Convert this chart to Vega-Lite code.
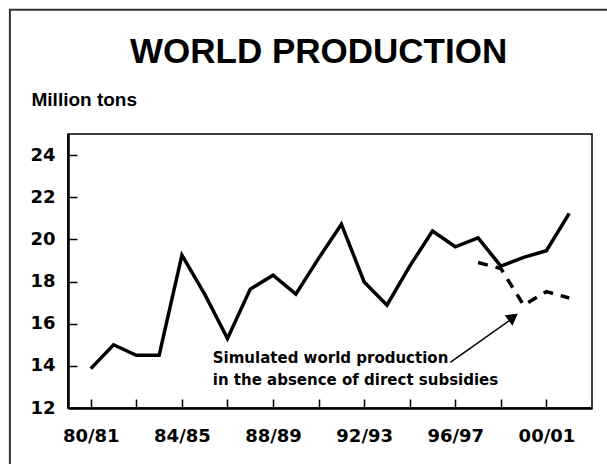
{
  "$schema": "https://vega.github.io/schema/vega-lite/v6.json",
  "width": 524,
  "height": 274,
  "autosize": {"type": "none"},
  "padding": {"left": 68, "top": 134, "right": 15, "bottom": 56},
  "background": "white",
  "title": {
    "text": "WORLD PRODUCTION",
    "font": "Liberation Sans",
    "fontSize": 35,
    "fontWeight": "bold",
    "color": "black",
    "anchor": "start",
    "frame": "group",
    "baseline": "alphabetic",
    "dx": 62,
    "dy": 97,
    "offset": 8
  },
  "config": {
    "view": {"stroke": "black", "strokeWidth": 1.5}
  },
  "datasets": {
    "prod": [
      {"i": 0, "season": "80/81", "v": 13.87},
      {"i": 1, "season": "81/82", "v": 15.0},
      {"i": 2, "season": "82/83", "v": 14.5},
      {"i": 3, "season": "83/84", "v": 14.5},
      {"i": 4, "season": "84/85", "v": 19.25},
      {"i": 5, "season": "85/86", "v": 17.4},
      {"i": 6, "season": "86/87", "v": 15.3},
      {"i": 7, "season": "87/88", "v": 17.64},
      {"i": 8, "season": "88/89", "v": 18.3},
      {"i": 9, "season": "89/90", "v": 17.4},
      {"i": 10, "season": "90/91", "v": 19.1},
      {"i": 11, "season": "91/92", "v": 20.72},
      {"i": 12, "season": "92/93", "v": 17.98},
      {"i": 13, "season": "93/94", "v": 16.88},
      {"i": 14, "season": "94/95", "v": 18.73},
      {"i": 15, "season": "95/96", "v": 20.4},
      {"i": 16, "season": "96/97", "v": 19.65},
      {"i": 17, "season": "97/98", "v": 20.07},
      {"i": 18, "season": "98/99", "v": 18.73},
      {"i": 19, "season": "99/00", "v": 19.15},
      {"i": 20, "season": "00/01", "v": 19.46},
      {"i": 21, "season": "01/02", "v": 21.23}
    ],
    "sim": [
      {"i": 17, "season": "97/98", "v": 18.9},
      {"i": 18, "season": "98/99", "v": 18.62},
      {"i": 19, "season": "99/00", "v": 16.88},
      {"i": 20, "season": "00/01", "v": 17.52},
      {"i": 21, "season": "01/02", "v": 17.22}
    ],
    "notes": [
      {"i": 5.355, "v": 14.12, "label": "Simulated world production"},
      {"i": 5.355, "v": 13.08, "label": "in the absence of direct subsidies"}
    ],
    "arrow": [
      {"i": 15.78, "v": 14.17, "k": 0},
      {"i": 18.6, "v": 16.32, "k": 1}
    ],
    "head": [
      {"i": 18.54, "v": 16.31}
    ]
  },
  "layer": [
    {
      "data": {"values": [{}]},
      "mark": {"type": "rect", "fill": null, "stroke": "#333333", "strokeWidth": 2, "clip": false},
      "encoding": {
        "x": {"datum": -3.55, "type": "quantitative"},
        "x2": {"datum": 40},
        "y": {"datum": 30.9, "type": "quantitative"},
        "y2": {"datum": -10}
      }
    },
    {
      "data": {"name": "prod"},
      "mark": {"type": "line", "color": "black", "strokeWidth": 3.5, "strokeJoin": "miter"},
      "encoding": {
        "x": {
          "field": "i",
          "type": "quantitative",
          "scale": {"domain": [-1, 22], "nice": false, "zero": false},
          "axis": {
            "title": null,
            "values": [0,1,2,3,4,5,6,7,8,9,10,11,12,13,14,15,16,17,18,19,20,21],
            "labelExpr": "datum.value % 4 == 0 ? ['80/81','81/82','82/83','83/84','84/85','85/86','86/87','87/88','88/89','89/90','90/91','91/92','92/93','93/94','94/95','95/96','96/97','97/98','98/99','99/00','00/01','01/02'][datum.value] : ''",
            "grid": false,
            "domainColor": "black",
            "domainWidth": 2.5,
            "tickColor": "black",
            "tickWidth": 1.5,
            "tickSize": -9,
            "labelPadding": 28,
            "labelFont": "DejaVu Sans",
            "labelFontSize": 18,
            "labelFontWeight": "bold",
            "labelColor": "black",
            "labelFlush": false,
            "labelOverlap": false
          }
        },
        "y": {
          "field": "v",
          "type": "quantitative",
          "scale": {"domain": [12, 25], "nice": false, "zero": false},
          "axis": {
            "title": "Million tons",
            "titleAngle": 0,
            "titleAlign": "left",
            "titleBaseline": "alphabetic",
            "titleX": -37,
            "titleY": -29,
            "titleFont": "Liberation Sans",
            "titleFontSize": 19,
            "titleFontWeight": "bold",
            "titleColor": "black",
            "values": [12, 14, 16, 18, 20, 22, 24],
            "grid": false,
            "domainColor": "black",
            "domainWidth": 2.5,
            "tickColor": "black",
            "tickWidth": 1.5,
            "tickSize": -9,
            "labelPadding": 22,
            "labelFont": "DejaVu Sans",
            "labelFontSize": 18,
            "labelFontWeight": "bold",
            "labelColor": "black",
            "labelOverlap": false
          }
        }
      }
    },
    {
      "data": {"name": "sim"},
      "mark": {"type": "line", "color": "black", "strokeWidth": 3.5, "strokeDash": [10, 8]},
      "encoding": {
        "x": {"field": "i", "type": "quantitative"},
        "y": {"field": "v", "type": "quantitative"}
      }
    },
    {
      "data": {"name": "arrow"},
      "mark": {"type": "line", "color": "black", "strokeWidth": 1.5},
      "encoding": {
        "x": {"field": "i", "type": "quantitative"},
        "y": {"field": "v", "type": "quantitative"},
        "order": {"field": "k"}
      }
    },
    {
      "data": {"name": "head"},
      "mark": {"type": "point", "shape": "triangle-up", "filled": true, "color": "black", "size": 170, "angle": 54, "opacity": 1},
      "encoding": {
        "x": {"field": "i", "type": "quantitative"},
        "y": {"field": "v", "type": "quantitative"}
      }
    },
    {
      "data": {"name": "notes"},
      "mark": {"type": "text", "align": "left", "baseline": "alphabetic", "font": "DejaVu Sans", "fontSize": 15, "fontWeight": "bold", "color": "black"},
      "encoding": {
        "x": {"field": "i", "type": "quantitative"},
        "y": {"field": "v", "type": "quantitative"},
        "text": {"field": "label"}
      }
    }
  ]
}
